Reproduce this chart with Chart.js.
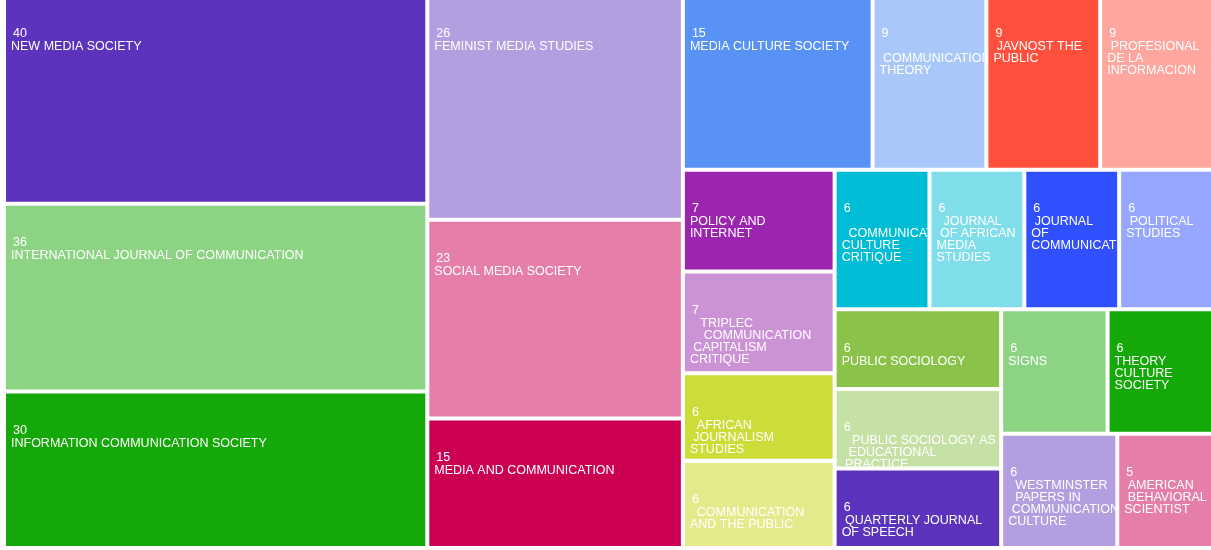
<!DOCTYPE html>
<html>
<head>
<meta charset="utf-8">
<title>Journals treemap</title>
<script src="https://cdn.jsdelivr.net/npm/chart.js@4.4.1/dist/chart.umd.min.js"></script>
<style>
    html, body { margin: 0; padding: 0; background: #fff; overflow: hidden; }
    .wrap { position: absolute; left: 0; top: -5px; width: 1214px; height: 554px; }
</style>
</head>
<body>
<div class="wrap"><canvas id="chart"></canvas></div>
<script>
/* =============================
   DATA (labels as they wrap in the cells)
============================= */

const journals = [
    "NEW MEDIA SOCIETY",
    "INTERNATIONAL JOURNAL OF COMMUNICATION",
    "INFORMATION COMMUNICATION SOCIETY",
    "FEMINIST MEDIA STUDIES",
    "SOCIAL MEDIA SOCIETY",
    "MEDIA AND COMMUNICATION",
    "MEDIA CULTURE SOCIETY",
    "\n COMMUNICATION\nTHEORY",
    " JAVNOST THE\nPUBLIC",
    " PROFESIONAL\nDE LA\nINFORMACION",
    "POLICY AND\nINTERNET",
    "   TRIPLEC\n    COMMUNICATION\n CAPITALISM\nCRITIQUE",
    "  AFRICAN\n JOURNALISM\nSTUDIES",
    "  COMMUNICATION\nAND THE PUBLIC",
    "\n  COMMUNICATION\nCULTURE\nCRITIQUE",
    "  JOURNAL\n OF AFRICAN\nMEDIA\nSTUDIES",
    " JOURNAL\nOF\nCOMMUNICATION",
    " POLITICAL\nSTUDIES",
    "PUBLIC SOCIOLOGY",
    "   PUBLIC SOCIOLOGY AS\n  EDUCATIONAL\n PRACTICE",
    " QUARTERLY JOURNAL\nOF SPEECH",
    "SIGNS",
    "THEORY\nCULTURE\nSOCIETY",
    "  WESTMINSTER\n  PAPERS IN\n COMMUNICATION\nCULTURE",
    " AMERICAN\n BEHAVIORAL\nSCIENTIST"
];

const counts = [40, 36, 30, 26, 23, 15, 15, 9, 9, 9, 7, 7, 6, 6, 6, 6, 6, 6, 6, 6, 6, 6, 6, 6, 5];

const palette = [
    "#5C33BD", "#8CD484", "#14A808", "#B39FE0", "#E57FAA",
    "#CC0052", "#5892F5", "#A9C7F9", "#FF503E", "#FFA69E",
    "#9B25AF", "#CC92D6", "#CDDC39", "#E4EA8C", "#00BCD4",
    "#80DEEA", "#304FFE", "#97A6FF", "#8BC34A", "#C5E1A5"
];

/* =============================
   SQUARIFIED LAYOUT
============================= */

const GAP = 4;            // white space between cells
const RATIO_COL = 1.77;   // strips stacked top to bottom
const RATIO_ROW = 1.33;   // strips laid left to right

function squarify(values, x, y, w, h) {
    const order = values.map((v, i) => i).sort((a, b) => values[b] - values[a]);
    const cells = [];
    let value = values.reduce((a, b) => a + b, 0);
    let i0 = 0;

    while (i0 < order.length) {
        // near-square areas are cut into a row
        const dice = w - GAP < h;
        const ratio = dice ? RATIO_ROW : RATIO_COL;
        const alpha = Math.max(h / w, w / h) / (value * ratio);

        let sum = values[order[i0]], min = sum, max = sum;
        let beta = sum * sum * alpha;
        let best = Math.max(max / beta, beta / min);
        let i1 = i0 + 1;

        for (; i1 < order.length; i1++) {
            const v = values[order[i1]];
            const s = sum + v;
            const b = s * s * alpha;
            const r = Math.max(Math.max(max, v) / b, b / Math.min(min, v));
            if (r > best) break;
            sum = s; min = Math.min(min, v); max = Math.max(max, v); best = r;
        }

        const strip = order.slice(i0, i1);
        const t = (dice ? h : w) * sum / value;
        let pos = dice ? x : y;

        strip.forEach(idx => {
            const len = (dice ? w : h) * values[idx] / sum;
            cells[idx] = dice ? { x: pos, y: y, w: len, h: t } : { x: x, y: pos, w: t, h: len };
            pos += len;
        });

        if (dice) { y += t; h -= t; }
        else { x += t; w -= t; }

        value -= sum;
        i0 = i1;
    }
    return cells;
}

/* =============================
   TREEMAP CONTROLLER (cells are bar elements)
============================= */

class TreemapController extends Chart.DatasetController {
    static id = "treemap";
    static defaults = { datasetElementType: false, dataElementType: "bar" };
    static overrides = {
        scales: {
            x: { type: "linear", min: 0, max: 1, display: false },
            y: { type: "linear", min: 0, max: 1, display: false }
        }
    };

    update(mode) {
        const meta = this._cachedMeta;
        this.updateElements(meta.data, 0, meta.data.length, mode);
    }

    updateElements(rects, start, count, mode) {
        const meta = this._cachedMeta;
        const xs = meta.xScale, ys = meta.yScale;
        const left = xs.getPixelForValue(0), right = xs.getPixelForValue(1);
        const top = ys.getPixelForValue(1), bottom = ys.getPixelForValue(0);
        const cells = squarify(this.getDataset().data, left, top, right - left, bottom - top);
        const p = GAP / 2;

        for (let i = start; i < start + count; i++) {
            const c = cells[i];
            this.updateElement(rects[i], i, {
                x: c.x + c.w / 2,
                y: c.y + p,
                base: c.y + c.h - p,
                width: c.w - GAP,
                height: c.h - GAP,
                horizontal: false,
                borderSkipped: {},
                enableBorderRadius: false,
                inflateAmount: 0,
                options: this.resolveDataElementOptions(i, mode)
            }, mode);
        }
    }
}

Chart.register(TreemapController);

/* cell labels: value on top, journal name below */
const cellLabels = {
    id: "cellLabels",
    afterDatasetsDraw(chart) {
        const ctx = chart.ctx;
        const meta = chart.getDatasetMeta(0);
        const data = chart.data.datasets[0].data;
        const names = chart.data.labels;

        ctx.save();
        ctx.font = '12.5px "Liberation Sans", Arial, sans-serif';
        ctx.fillStyle = "#ffffff";
        ctx.textBaseline = "middle";

        meta.data.forEach((el, i) => {
            const { x, y, base, width } = el.getProps(["x", "y", "base", "width"], true);
            const left = x - width / 2;
            ctx.save();
            ctx.beginPath();
            ctx.rect(left, y, width, base - y);
            ctx.clip();
            ctx.fillText(String(data[i]), left + 7, y + 37);
            names[i].split("\n").forEach((line, k) => {
                ctx.fillText(line, left + 5, y + 50 + k * 12);
            });
            ctx.restore();
        });
        ctx.restore();
    }
};

new Chart(document.getElementById("chart"), {
    type: "treemap",
    data: {
        labels: journals,
        datasets: [{
            data: counts,
            backgroundColor: counts.map((_, i) => palette[i % palette.length]),
            borderWidth: 0,
            inflateAmount: 0
        }]
    },
    options: {
        responsive: true,
        maintainAspectRatio: false,
        animation: false,
        events: [],
        layout: { padding: { left: 4, right: 0, top: 0, bottom: 1 } },
        plugins: {
            legend: { display: false },
            tooltip: { enabled: false }
        }
    },
    plugins: [cellLabels]
});
</script>
</body>
</html>
